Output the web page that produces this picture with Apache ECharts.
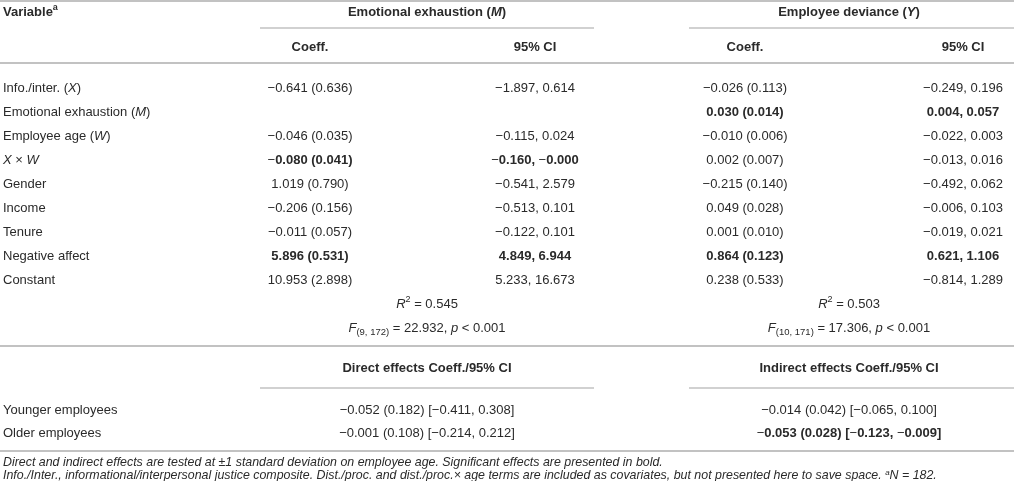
<!DOCTYPE html>
<html>
<head>
<meta charset="utf-8">
<title>Moderated mediation table</title>
<script src="https://cdn.jsdelivr.net/npm/echarts@6.0.0/dist/echarts.min.js"></script>
<style>
  html, body { margin: 0; padding: 0; background: #fff; }
  #main { width: 1014px; height: 481px; }
</style>
</head>
<body>
<div id="main"></div>
<script>
// ---- table values ----
var rowLabels = ['Info./inter. (X)', 'Emotional exhaustion (M)', 'Employee age (W)', 'X \u00d7 W',
    'Gender', 'Income', 'Tenure', 'Negative affect', 'Constant'];

// Emotional exhaustion (M) model
var coefM = [-0.641, null, -0.046, -0.080, 1.019, -0.206, -0.011, 5.896, 10.953];
var seM = [0.636, null, 0.035, 0.041, 0.790, 0.156, 0.057, 0.531, 2.898];
var ciLowM = [-1.897, null, -0.115, -0.160, -0.541, -0.513, -0.122, 4.849, 5.233];
var ciHighM = [0.614, null, 0.024, -0.000, 2.579, 0.101, 0.101, 6.944, 16.673];
var sigM = [false, false, false, true, false, false, false, true, false];

// Employee deviance (Y) model
var coefY = [-0.026, 0.030, -0.010, 0.002, -0.215, 0.049, 0.001, 0.864, 0.238];
var seY = [0.113, 0.014, 0.006, 0.007, 0.140, 0.028, 0.010, 0.123, 0.533];
var ciLowY = [-0.249, 0.004, -0.022, -0.013, -0.492, -0.006, -0.019, 0.621, -0.814];
var ciHighY = [0.196, 0.057, 0.003, 0.016, 0.062, 0.103, 0.021, 1.106, 1.289];
var sigY = [false, true, false, false, false, false, false, true, false];

// model fit
var rSquared = [0.545, 0.503];
var fDf = [[9, 172], [10, 171]];
var fValue = [22.932, 17.306];
var pText = ['< 0.001', '< 0.001'];

// conditional effects
var groupLabels = ['Younger employees', 'Older employees'];
var directCoef = [-0.052, -0.001];
var directSe = [0.182, 0.108];
var directLow = [-0.411, -0.214];
var directHigh = [0.308, 0.212];
var indirectCoef = [-0.014, -0.053];
var indirectSe = [0.042, 0.028];
var indirectLow = [-0.065, -0.123];
var indirectHigh = [0.100, -0.009];
var indirectSig = [false, true];

var sampleN = 182;

// ---- layout ----
var W = 1014, H = 481;
var colX = [3, 310, 535, 745, 963];
var groupX = [427, 849];
var groupSpan = [[260, 594], [689, 1014]];
var yHead1 = 12, yHead2 = 47, yFirst = 88, rowStep = 24;
var yDirHead = 368, yGroupFirst = 410, yFoot = [463, 476];
var LINE = '#c2c2c2';

var FONT = '"Liberation Sans", Arial, Helvetica, sans-serif';
var TXT = '#2a2a2a';
var BOLD = '#111';
var FS = 13;
var rich = {
    n: { fontSize: FS, fontFamily: FONT, color: TXT, lineHeight: 18 },
    i: { fontSize: FS, fontFamily: FONT, color: TXT, fontStyle: 'italic', lineHeight: 18 },
    b: { fontSize: FS, fontFamily: FONT, color: BOLD, fontWeight: 'bold', lineHeight: 18 },
    bi: { fontSize: FS, fontFamily: FONT, color: BOLD, fontWeight: 'bold', fontStyle: 'italic', lineHeight: 18 },
    sup: { fontSize: 9, fontFamily: FONT, color: TXT, lineHeight: 10, verticalAlign: 'top' },
    bsup: { fontSize: 9, fontFamily: FONT, color: BOLD, fontWeight: 'bold', lineHeight: 10, verticalAlign: 'top' },
    sub: { fontSize: 9.5, fontFamily: FONT, color: TXT, lineHeight: 10, verticalAlign: 'bottom' },
    f: { fontSize: 12.4, fontFamily: FONT, color: TXT, fontStyle: 'italic', lineHeight: 15 },
    fsup: { fontSize: 8, fontFamily: FONT, color: TXT, fontStyle: 'italic', lineHeight: 9, verticalAlign: 'top' }
};

function num(v) {
    if (v < 0 || Object.is(v, -0)) return '\u2212' + Math.abs(v).toFixed(3);
    return v.toFixed(3);
}
function coefText(c, s) { return num(c) + ' (' + num(s) + ')'; }
function ciText(lo, hi) { return num(lo) + ', ' + num(hi); }

// plain text -> rich tokens; bold cells keep the minus glyph regular
function cellRich(s, bold) {
    if (!bold) return '{n|' + s + '}';
    return s.split('\u2212').map(function (part) {
        return part ? '{b|' + part + '}' : '';
    }).join('{n|\u2212}');
}
// single capital letters (X, W, M, Y) are variables -> italic
function labelRich(s, bold) {
    var base = bold ? 'b' : 'n', ital = bold ? 'bi' : 'i';
    return s.split(/\b([XWMY])\b/).map(function (part, k) {
        if (!part) return '';
        return '{' + (k % 2 ? ital : base) + '|' + part + '}';
    }).join('');
}

var cells = [];
function addCell(x, y, text, align) {
    cells.push({ x: x, y: y, text: text, align: align || 'center' });
}

// header
addCell(colX[0], yHead1, '{b|Variable}{bsup|a}', 'left');
addCell(groupX[0], yHead1, labelRich('Emotional exhaustion (M)', true));
addCell(groupX[1], yHead1, labelRich('Employee deviance (Y)', true));
addCell(colX[1], yHead2, '{b|Coeff.}');
addCell(colX[2], yHead2, '{b|95% CI}');
addCell(colX[3], yHead2, '{b|Coeff.}');
addCell(colX[4], yHead2, '{b|95% CI}');

// coefficient rows
rowLabels.forEach(function (label, r) {
    var y = yFirst + r * rowStep;
    addCell(colX[0], y, labelRich(label, false), 'left');
    if (coefM[r] !== null) {
        addCell(colX[1], y, cellRich(coefText(coefM[r], seM[r]), sigM[r]));
        addCell(colX[2], y, cellRich(ciText(ciLowM[r], ciHighM[r]), sigM[r]));
    }
    addCell(colX[3], y, cellRich(coefText(coefY[r], seY[r]), sigY[r]));
    addCell(colX[4], y, cellRich(ciText(ciLowY[r], ciHighY[r]), sigY[r]));
});

// fit rows
var yR2 = yFirst + rowLabels.length * rowStep;
[0, 1].forEach(function (m) {
    addCell(groupX[m], yR2, '{i|R}{sup|2}{n| = ' + rSquared[m].toFixed(3) + '}');
    addCell(groupX[m], yR2 + rowStep, '{i|F}{sub|(' + fDf[m][0] + ', ' + fDf[m][1] + ')}{n| = ' +
        fValue[m].toFixed(3) + ', }{i|p}{n| ' + pText[m] + '}');
});

// conditional effects
addCell(groupX[0], yDirHead, '{b|Direct effects Coeff./95% CI}');
addCell(groupX[1], yDirHead, '{b|Indirect effects Coeff./95% CI}');
groupLabels.forEach(function (label, g) {
    var y = yGroupFirst + g * (rowStep - 1);
    addCell(colX[0], y, '{n|' + label + '}', 'left');
    addCell(groupX[0], y, cellRich(coefText(directCoef[g], directSe[g]) + ' [' +
        ciText(directLow[g], directHigh[g]) + ']', false));
    addCell(groupX[1], y, cellRich(coefText(indirectCoef[g], indirectSe[g]) + ' [' +
        ciText(indirectLow[g], indirectHigh[g]) + ']', indirectSig[g]));
});

// notes
addCell(colX[0], yFoot[0], '{f|Direct and indirect effects are tested at \u00b11 standard deviation on employee age. ' +
    'Significant effects are presented in bold.}', 'left');
addCell(colX[0], yFoot[1], '{f|Info./Inter., informational/interpersonal justice composite. Dist./proc. and ' +
    'dist./proc.\u00d7 age terms are included as covariates, but not presented here to save space. }{fsup|a}{f|N = ' +
    sampleN + '.}', 'left');

// horizontal rules: [x1, x2, y, width]
var rules = [
    [0, W, 1, 2],
    [groupSpan[0][0], groupSpan[0][1], 28, 1.5],
    [groupSpan[1][0], groupSpan[1][1], 28, 1.5],
    [0, W, 63, 2],
    [0, W, 346, 2],
    [groupSpan[0][0], groupSpan[0][1], 388, 1.5],
    [groupSpan[1][0], groupSpan[1][1], 388, 1.5],
    [0, W, 451, 2]
];

var chart = echarts.init(document.getElementById('main'));
chart.setOption({
    animation: false,
    grid: { left: 0, right: 0, top: 0, bottom: 0 },
    xAxis: { type: 'value', min: 0, max: W, show: false },
    yAxis: { type: 'value', min: 0, max: H, inverse: true, show: false },
    series: [
        {
            type: 'custom',
            silent: true,
            data: rules,
            renderItem: function (params, api) {
                var a = api.coord([api.value(0), api.value(2)]);
                var b = api.coord([api.value(1), api.value(2)]);
                return {
                    type: 'line',
                    shape: { x1: a[0], y1: a[1], x2: b[0], y2: b[1] },
                    style: { stroke: LINE, lineWidth: api.value(3) }
                };
            }
        },
        {
            type: 'custom',
            silent: true,
            data: cells.map(function (c) { return [c.x, c.y]; }),
            renderItem: function (params, api) {
                var c = cells[params.dataIndex];
                var p = api.coord([api.value(0), api.value(1)]);
                return {
                    type: 'text',
                    x: p[0],
                    y: p[1],
                    style: {
                        text: c.text,
                        rich: rich,
                        align: c.align,
                        verticalAlign: 'middle',
                        fill: TXT,
                        font: FS + 'px ' + FONT
                    }
                };
            }
        }
    ]
});
</script>
</body>
</html>
